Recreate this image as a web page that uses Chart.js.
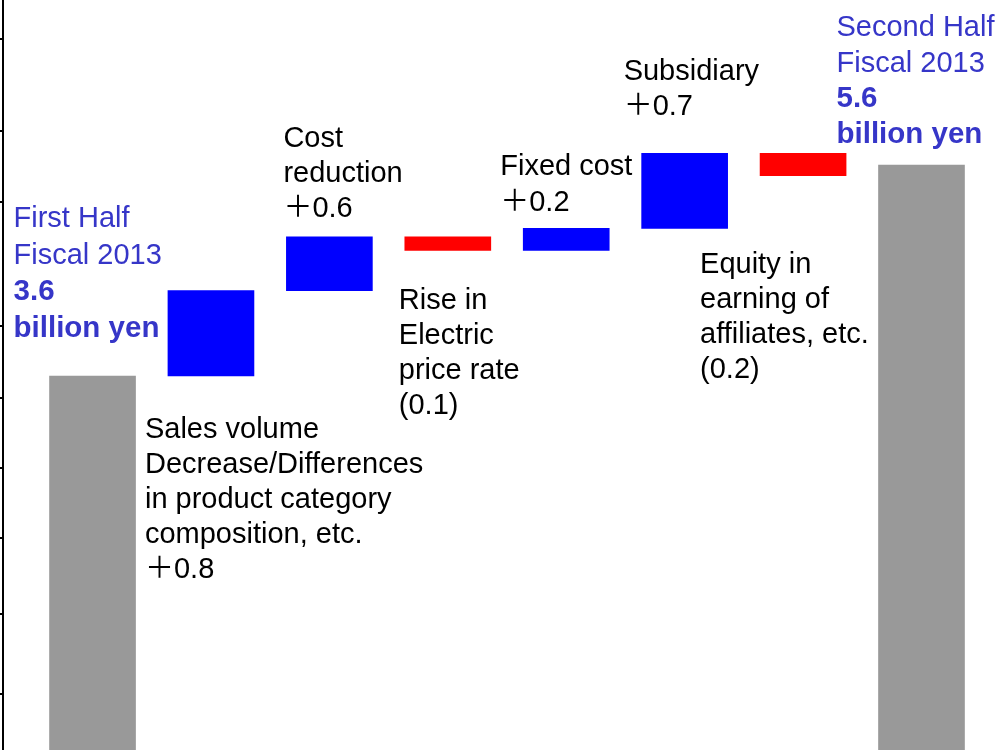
<!DOCTYPE html>
<html>
<head>
<meta charset="utf-8">
<script src="https://cdn.jsdelivr.net/npm/chart.js@4"></script>
<style>
  html, body { margin: 0; padding: 0; background: #fff; }
  #wrap { width: 998px; height: 750px; }
</style>
</head>
<body>
<div id="wrap"><canvas id="waterfall" width="998" height="750"></canvas></div>
<script>
// bar steps, left to right (billion yen)
const steps = ['First Half', 'Sales volume', 'Cost reduction', 'Electric price', 'Fixed cost', 'Subsidiary', 'Equity', 'Second Half'];
const barLow  = [0,   3.6,  4.41, 4.79, 4.79, 5.0,  5.5,  0];
const barHigh = [3.6, 4.41, 4.92, 4.92, 5.0,  5.71, 5.71, 5.6];
const barColors = ['#999999', '#0000FF', '#0000FF', '#FF0000', '#0000FF', '#0000FF', '#FF0000', '#999999'];

// tick marks on the left axis (no labels)
const axisTicks = [0.59, 1.34, 2.06, 2.73, 3.39, 4.07, 5.25, 5.92, 6.79];

const BLUE_TEXT = '#3636C8';
const FONT = '"Liberation Sans", Arial, "Noto Sans CJK JP", sans-serif';

// annotation text, anchored to a bar (left edge, top or bottom)
const notes = [
    { bar: 0, at: 'top', dx: -36, dy: -157, color: BLUE_TEXT, lh: 36.5,
      lines: [['First Half', false], ['Fiscal 2013', false], ['3.6', true], ['billion yen', true]] },
    { bar: 1, at: 'bottom', dx: -23, dy: 54, color: '#000', lh: 35,
      lines: [['Sales volume', false], ['Decrease/Differences', false], ['in product category', false], ['composition, etc.', false], ['＋0.8', false]] },
    { bar: 2, at: 'top', dx: -3, dy: -98, color: '#000', lh: 35,
      lines: [['Cost', false], ['reduction', false], ['＋0.6', false]] },
    { bar: 3, at: 'bottom', dx: -6, dy: 51, color: '#000', lh: 35,
      lines: [['Rise in', false], ['Electric', false], ['price rate', false], ['(0.1)', false]] },
    { bar: 4, at: 'top', dx: -23, dy: -61, color: '#000', lh: 36,
      lines: [['Fixed cost', false], ['＋0.2', false]] },
    { bar: 5, at: 'top', dx: -18, dy: -81, color: '#000', lh: 35,
      lines: [['Subsidiary', false], ['＋0.7', false]] },
    { bar: 6, at: 'bottom', dx: -60, dy: 89, color: '#000', lh: 35,
      lines: [['Equity in', false], ['earning of', false], ['affiliates, etc.', false], ['(0.2)', false]] },
    { bar: 7, at: 'top', dx: -42, dy: -137, color: BLUE_TEXT, lh: 35.5,
      lines: [['Second Half', false], ['Fiscal 2013', false], ['5.6', true], ['billion yen', true]] }
];

const notesPlugin = {
    id: 'notes',
    afterDatasetsDraw(chart) {
        const ctx = chart.ctx;
        const meta = chart.getDatasetMeta(0);
        ctx.save();
        ctx.textBaseline = 'middle';
        ctx.textAlign = 'left';
        notes.forEach(n => {
            const bar = meta.data[n.bar];
            const left = bar.x - bar.width / 2;
            const top = Math.min(bar.y, bar.base);
            const bottom = Math.max(bar.y, bar.base);
            const y0 = (n.at === 'top' ? top : bottom) + n.dy;
            ctx.fillStyle = n.color;
            n.lines.forEach((ln, i) => {
                ctx.font = (ln[1] ? 'bold 29.5px ' : '29px ') + FONT;
                ctx.fillText(ln[0], left + n.dx, y0 + i * n.lh);
            });
        });
        ctx.restore();
    }
};

const ctx = document.getElementById('waterfall').getContext('2d');
new Chart(ctx, {
    type: 'bar',
    data: {
        datasets: [{
            label: 'Operating income change',
            data: steps.map((s, i) => ({ x: i, y: [barLow[i], barHigh[i]] })),
            backgroundColor: barColors,
            borderWidth: 0,
            barThickness: 86
        }]
    },
    options: {
        responsive: false,
        animation: false,
        layout: { padding: 0 },
        plugins: {
            legend: { display: false },
            tooltip: { enabled: false }
        },
        scales: {
            x: {
                type: 'linear',
                min: -0.756,
                max: 7.646,
                offset: false,
                display: false
            },
            y: {
                min: 0.055,
                max: 7.164,
                afterBuildTicks: axis => {
                    axis.ticks = axisTicks.map(v => ({ value: v }));
                },
                ticks: { display: false },
                grid: {
                    drawOnChartArea: false,
                    drawTicks: true,
                    tickLength: 3,
                    color: '#000',
                    lineWidth: 2
                },
                border: { display: true, color: '#000', width: 2 }
            }
        }
    },
    plugins: [notesPlugin]
});
</script>
</body>
</html>
